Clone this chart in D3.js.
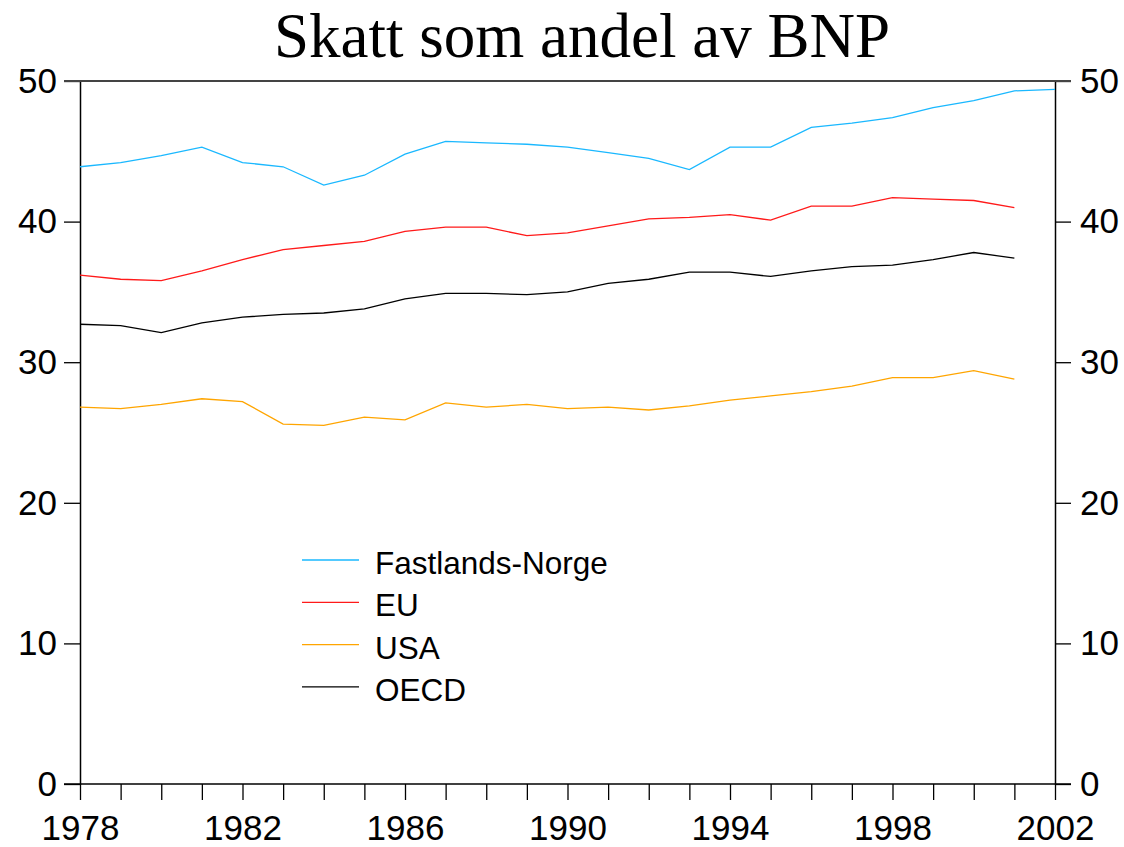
<!DOCTYPE html>
<html>
<head>
<meta charset="utf-8">
<script src="https://cdn.jsdelivr.net/npm/d3@7"></script>
<style>
  body { margin: 0; background: #fff; }
  svg { display: block; }
</style>
</head>
<body>
<svg id="chart" width="1124" height="847"></svg>
<script>
// data, per cent of GDP
const years = d3.range(1978, 2003);
const norge = [43.9, 44.2, 44.7, 45.3, 44.2, 43.9, 42.6, 43.3, 44.8, 45.7, 45.6, 45.5, 45.3,
               44.9, 44.5, 43.7, 45.3, 45.3, 46.7, 47.0, 47.4, 48.1, 48.6, 49.3, 49.4];
const eu    = [36.2, 35.9, 35.8, 36.5, 37.3, 38.0, 38.3, 38.6, 39.3, 39.6, 39.6, 39.0, 39.2,
               39.7, 40.2, 40.3, 40.5, 40.1, 41.1, 41.1, 41.7, 41.6, 41.5, 41.0];
const usa   = [26.8, 26.7, 27.0, 27.4, 27.2, 25.6, 25.5, 26.1, 25.9, 27.1, 26.8, 27.0, 26.7,
               26.8, 26.6, 26.9, 27.3, 27.6, 27.9, 28.3, 28.9, 28.9, 29.4, 28.8];
const oecd  = [32.7, 32.6, 32.1, 32.8, 33.2, 33.4, 33.5, 33.8, 34.5, 34.9, 34.9, 34.8, 35.0,
               35.6, 35.9, 36.4, 36.4, 36.1, 36.5, 36.8, 36.9, 37.3, 37.8, 37.4];
const yTicks = [0, 10, 20, 30, 40, 50];
const xLabels = [1978, 1982, 1986, 1990, 1994, 1998, 2002];

const series = [
  { name: "Fastlands-Norge", values: norge, color: "#1ab8ff" },
  { name: "EU", values: eu, color: "#ff1a1a" },
  { name: "USA", values: usa, color: "#ffa500" },
  { name: "OECD", values: oecd, color: "#000000" }
];

const svg = d3.select("#chart");
const plotLeft = 80, plotRight = 1055, plotTop = 81, plotBottom = 784;

const x = d3.scaleLinear().domain([1978, 2002]).range([plotLeft, plotRight]);
const y = d3.scaleLinear().domain([0, 50]).range([plotBottom, plotTop]);

// title
svg.append("text")
  .attr("x", 582)
  .attr("y", 57)
  .attr("text-anchor", "middle")
  .style("font-family", "'Liberation Serif', 'Times New Roman', serif")
  .style("font-size", "63px")
  .text("Skatt som andel av BNP");

const tickFont = "'Liberation Sans', Arial, sans-serif";

// left axis
const gLeft = svg.append("g")
  .attr("transform", "translate(" + plotLeft + ",0)")
  .call(d3.axisLeft(y).tickValues(yTicks).tickSize(16).tickSizeOuter(0).tickPadding(7));

// right axis
const gRight = svg.append("g")
  .attr("transform", "translate(" + plotRight + ",0)")
  .call(d3.axisRight(y).tickValues(yTicks).tickSize(16).tickSizeOuter(0).tickPadding(9));

// bottom axis, a tick every year
const gBottom = svg.append("g")
  .attr("transform", "translate(0," + plotBottom + ")")
  .call(d3.axisBottom(x).tickValues(years).tickSize(16).tickSizeOuter(0).tickPadding(15)
    .tickFormat(d => xLabels.includes(d) ? d : ""));

[gLeft, gRight, gBottom].forEach(g => {
  g.selectAll("text")
    .style("font-family", tickFont)
    .style("font-size", "35px")
    .attr("fill", "#000");
  g.selectAll("line").attr("stroke", "#000").attr("stroke-width", 1.3);
  g.select(".domain").attr("stroke", "#000").attr("stroke-width", 1.5);
});
gBottom.select(".domain").remove();

// top and bottom frame lines, reaching across the outer ticks
svg.append("line")
  .attr("x1", plotLeft - 16).attr("x2", plotRight + 16)
  .attr("y1", y(50)).attr("y2", y(50))
  .attr("stroke", "#444").attr("stroke-width", 1.8);
svg.append("line")
  .attr("x1", plotLeft - 16).attr("x2", plotRight + 16)
  .attr("y1", y(0)).attr("y2", y(0))
  .attr("stroke", "#000").attr("stroke-width", 1.5);

// lines
const line = d3.line()
  .x((d, i) => x(years[i]))
  .y(d => y(d));

series.forEach(s => {
  svg.append("path")
    .datum(s.values)
    .attr("fill", "none")
    .attr("stroke", s.color)
    .attr("stroke-width", 1.3)
    .attr("d", line);
});

// legend
const legend = svg.append("g").attr("transform", "translate(302,560)");
series.forEach((s, i) => {
  const row = legend.append("g").attr("transform", "translate(0," + (i * 42.3) + ")");
  row.append("line")
    .attr("x1", 0).attr("x2", 57)
    .attr("stroke", s.color).attr("stroke-width", 1.3);
  row.append("text")
    .attr("x", 73)
    .attr("y", 14)
    .style("font-family", tickFont)
    .style("font-size", "31.5px")
    .text(s.name);
});
</script>
</body>
</html>
